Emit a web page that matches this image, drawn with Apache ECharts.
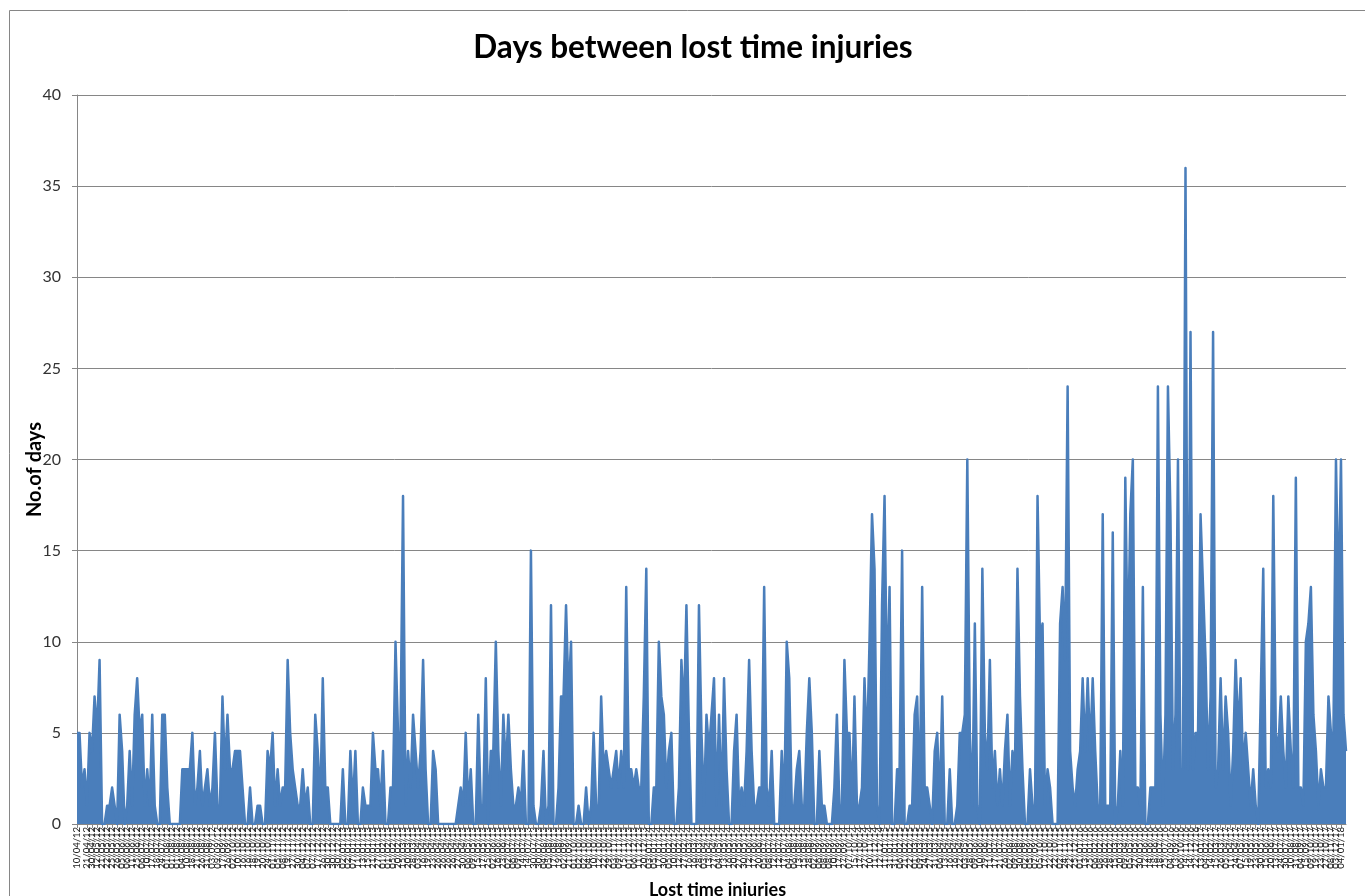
<!DOCTYPE html>
<html>
<head>
<meta charset="utf-8">
<title>Days between lost time injuries</title>
<script src="https://cdn.jsdelivr.net/npm/echarts@6/dist/echarts.min.js"></script>
<style>
  html, body { margin: 0; padding: 0; background: #fff; }
  #chart { width: 1365px; height: 896px; }
</style>
</head>
<body>
<div id="chart"></div>
<script>
// days between successive lost time injuries left to right
const days2012 = [
  5,5,2,3,1,5,4,7,5,9, 0,0,1,1,2,1,0,6,4,0, 1,4,1,6,8,5,6,1,3,1,
  6,1,0,0,6,6,2,0,0,0, 0,0,3,3,3,3,5,1,2,4, 1,2,3,1,2,5,1,1,7,3,
  6,3,3,4,4,4,2,0,0,2, 0,0,1,1,0,0,4,3,5,1, 3,1,2,2,9,5,3,2,1,1,
  3,1,2,0,0,6,4,1,8,2, 2,0,0,0,0,0,3,0,0,4, 1,4,0,0,2,1,1,1,5,3,
  3,1,4,0,0,2
];
const days2014 = [
  2,10,5,5,18,1,4,2,6,4, 2,4,9,3,0,0,4,3,0,0, 0,0,0,0,0,0,1,2,1,5,
  1,3,0,0,6,1,1,8,0,4, 4,10,4,1,6,3,6,3,1,1, 2,1,4,0,0,15,1,0,0,1,
  4,0,1,12,0,0,2,7,7,12, 7,10,0,0,1,0,0,2,0,1, 5,1,1,7,3,4,3,2,3,4,
  2,4,2,13,3,3,2,3,2,2, 7,14,0,0,2,2,10,7,6,2, 4,5,0,0,2,9,6,12,5,0,
  0,0,12,5
];
const days2016 = [
  1,6,4,6,8,1,6,1,8,3, 0,0,4,6,1,2,1,4,9,4, 1,1,2,2,13,2,1,4,0,0,
  0,4,1,10,8,1,1,3,4,1, 1,5,8,5,0,0,4,1,1,0, 0,0,2,6,1,1,9,5,5,1,
  7,1,1,2,8,4,10,17,14,1, 0,12,18,7,13,0,0,3,3,15, 0,0,1,1,6,7,1,13,2,2,
  1,0,4,5,1,7,0,0,3,0, 0,1,5,5,6,20,5,1,11,1, 0,14,5,3,9,2,4,1,3,1,
  4,6,1,4
];
const days2018 = [
  3,14,7,3,0,0,3,1,1,18, 10,11,1,3,2,0,0,0,11,13, 9,24,4,2,1,3,4,8,4,8,
  4,8,4,1,1,17,1,1,1,16, 0,1,4,1,19,9,17,20,2,2, 1,13,0,0,2,2,2,24,6,1,
  6,24,17,3,6,20,3,3,36,3, 27,3,5,5,17,13,9,3,7,27, 2,3,8,3,7,5,1,4,9,5,
  8,3,5,3,1,3,1,0,7,14, 2,3,2,18,5,4,7,4,2,7, 4,2,19,2,2,1,10,11,13,6,
  4,1,3,2,2,7,5,5,20,12, 20,6,4
];
const firstInjury = [2012, 4, 10];   // 10/04/12
const yTicks = { min: 0, max: 40, step: 5 };

const days = [].concat(days2012, days2014, days2016, days2018);

// category labels: date of each injury, counted on from the first one
const pad = n => String(n).padStart(2, '0');
const d = new Date(firstInjury[0], firstInjury[1] - 1, firstInjury[2]);
const labels = days.map((v, i) => {
  if (i > 0) d.setDate(d.getDate() + v);
  return pad(d.getDate()) + '/' + pad(d.getMonth() + 1) + '/' + String(d.getFullYear()).slice(2);
});

const font = 'Lato, "Open Sans", sans-serif';
const blue = '#4A7EBB';
const chart = echarts.init(document.getElementById('chart'));

chart.setOption({
  animation: false,
  backgroundColor: '#fff',
  graphic: [{
    type: 'rect',
    shape: { x: 9.5, y: 10.5, width: 1400, height: 950 },
    style: { fill: 'none', stroke: '#868686', lineWidth: 1 },
    silent: true
  }],
  title: {
    text: 'Days between lost time injuries',
    left: 688,
    textAlign: 'center',
    top: 27,
    textStyle: { fontFamily: font, fontSize: 31.5, fontWeight: 'bold', color: '#000' }
  },
  grid: { left: 77, right: 19, top: 95, bottom: 72, outerBoundsMode: 'none' },
  xAxis: {
    type: 'category',
    data: labels,
    boundaryGap: false,
    name: 'Lost time injuries',
    nameLocation: 'middle',
    nameGap: 57,
    nameMoveOverlap: false,
    nameTextStyle: { fontFamily: font, fontSize: 18, fontWeight: 'bold', color: '#000', padding: [0, 0, 0, 12] },
    axisLine: { lineStyle: { color: '#868686', width: 1 } },
    axisTick: { show: true, interval: 1, length: 4, lineStyle: { color: '#868686' } },
    axisLabel: { rotate: 90, interval: 1, showMinLabel: true, fontSize: 9.5, color: '#222', margin: 3, fontFamily: font },
    splitLine: { show: false }
  },
  yAxis: {
    type: 'value',
    min: yTicks.min,
    max: yTicks.max,
    interval: yTicks.step,
    name: 'No.of days',
    nameLocation: 'middle',
    nameGap: 32,
    nameMoveOverlap: false,
    nameRotate: 90,
    nameTextStyle: { fontFamily: font, fontSize: 20, fontWeight: 'bold', color: '#000', padding: [0, 20, 0, 0] },
    axisLine: { show: true, lineStyle: { color: '#868686', width: 1 } },
    axisTick: { show: true, length: 5, lineStyle: { color: '#868686' } },
    axisLabel: { fontSize: 16, color: '#333', margin: 16, fontFamily: font },
    splitLine: { lineStyle: { color: '#868686', width: 1 } }
  },
  series: [{
    name: 'Days between',
    type: 'line',
    data: days,
    showSymbol: false,
    lineStyle: { color: blue, width: 2.5, join: 'round' },
    itemStyle: { color: blue },
    areaStyle: { color: blue, opacity: 1 }
  }]
});
</script>
</body>
</html>
